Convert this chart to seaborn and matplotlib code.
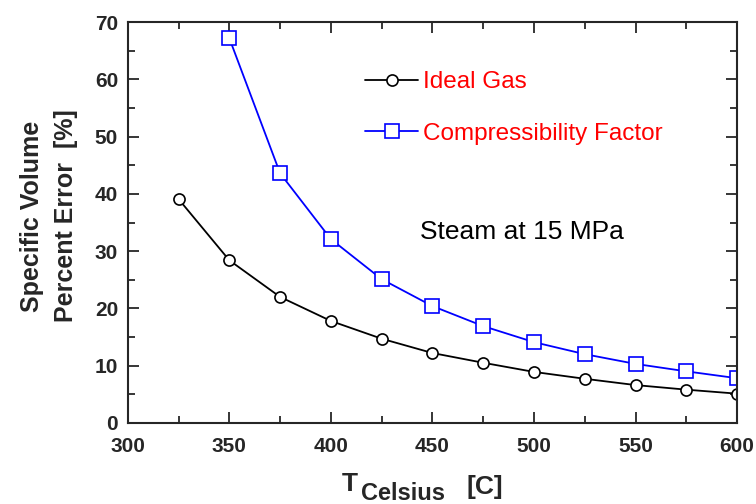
import numpy as np
import pandas as pd
import matplotlib
matplotlib.use('Agg')
import matplotlib.pyplot as plt
import seaborn as sns
from matplotlib.ticker import MultipleLocator

# Valores
temp_ideal = [325, 350, 375, 400, 425, 450, 475, 500, 525, 550, 575, 600]
erro_ideal = [39.1, 28.4, 22.0, 17.8, 14.7, 12.2, 10.5, 8.9, 7.7, 6.6, 5.8, 5.1]
temp_z = [350, 375, 400, 425, 450, 475, 500, 525, 550, 575, 600]
erro_z = [67.2, 43.6, 32.1, 25.1, 20.4, 16.9, 14.1, 12.0, 10.3, 9.0, 7.8]

sns.set_style('ticks')
plt.rcParams['font.family'] = ['Liberation Sans', 'DejaVu Sans']

fig = plt.figure(figsize=(7.56, 5.04), dpi=100)
ax = fig.add_axes([0.169, 0.161, 0.806, 0.795])

sns.lineplot(x=temp_ideal, y=erro_ideal, ax=ax, color='black', lw=1.3,
             marker='o', markersize=8, markerfacecolor='white',
             markeredgecolor='black', markeredgewidth=1.2, label='Ideal Gas')
sns.lineplot(x=temp_z, y=erro_z, ax=ax, color='blue', lw=1.3,
             marker='s', markersize=9.5, markerfacecolor='white',
             markeredgecolor='blue', markeredgewidth=1.2,
             label='Compressibility Factor')

ax.set_xlim(300, 600)
ax.set_ylim(0, 70)
ax.xaxis.set_major_locator(MultipleLocator(50))
ax.xaxis.set_minor_locator(MultipleLocator(25))
ax.yaxis.set_major_locator(MultipleLocator(10))
ax.yaxis.set_minor_locator(MultipleLocator(5))
ax.tick_params(which='both', direction='in', top=True, right=True, width=1.3)
ax.tick_params(which='major', length=8, labelsize=15)
ax.tick_params(axis='x', which='major', pad=10)
ax.tick_params(axis='y', which='major', pad=7)
ax.tick_params(which='minor', length=5)
for lab in ax.get_xticklabels() + ax.get_yticklabels():
    lab.set_fontweight('bold')
for s in ax.spines.values():
    s.set_linewidth(1.5)
    s.set_visible(True)

# Eixo y
ax.set_ylabel('Specific Volume\nPercent Error  [%]', fontsize=18, fontweight='bold',
              linespacing=1.5)
ax.yaxis.set_label_coords(-0.082, 0.516)

# Eixo x: T com subscrito grande
fig.text(342 / 756, 1 - 491 / 504, 'T', fontsize=19, fontweight='bold',
         va='baseline', ha='left')
fig.text(361 / 756, 1 - 500 / 504, 'Celsius', fontsize=17, fontweight='bold',
         va='baseline', ha='left')
fig.text(467 / 756, 1 - 494 / 504, '[C]', fontsize=19, fontweight='bold',
         va='baseline', ha='left')

ax.text(0.479, 0.476, 'Steam at 15 MPa', transform=ax.transAxes, fontsize=19,
        color='black', va='center')

leg = ax.legend(loc='upper left', bbox_to_anchor=(0.389, 0.877), frameon=False,
                fontsize=17.5, labelcolor='red', handlelength=2.2,
                handletextpad=0.2, labelspacing=1.2, borderpad=0,
                borderaxespad=0)

fig.savefig('out.png', dpi=100)
